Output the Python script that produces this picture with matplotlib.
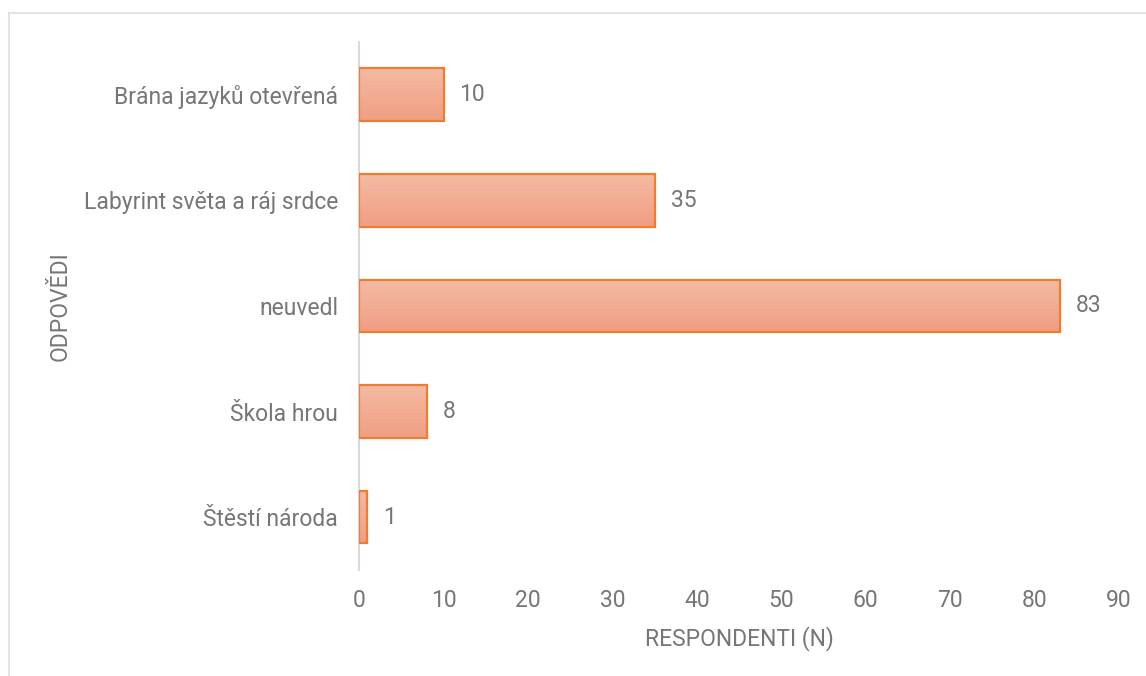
import matplotlib
matplotlib.use("Agg")
import matplotlib.pyplot as plt
import numpy as np
from matplotlib.colors import LinearSegmentedColormap
from matplotlib.lines import Line2D

plt.rcParams['font.family'] = ['Roboto', 'DejaVu Sans']

categories = ["Brána jazyků otevřená", "Labyrint světa a ráj srdce", "neuvedl",
              "Škola hrou", "Štěstí národa"]
values = [10, 35, 83, 8, 1]
xticks = [0, 10, 20, 30, 40, 50, 60, 70, 80, 90]

text_col = "#767676"
edge_col = "#ED7D31"
grad = LinearSegmentedColormap.from_list("g", ["#F5BAA3", "#F09E82"])
fs = 16.5

fig = plt.figure(figsize=(11.46, 6.76), dpi=100)
ax = fig.add_axes([0.3133, 0.157, 0.6633, 0.7809])

ypos = np.arange(len(categories))
bars = ax.barh(ypos, values, height=0.5, facecolor="none", edgecolor=edge_col,
               linewidth=1.6, zorder=3)
g = np.linspace(0, 1, 64).reshape(-1, 1)
for b in bars:
    x0, y0 = b.get_x(), b.get_y()
    w, h = b.get_width(), b.get_height()
    ax.imshow(g, cmap=grad, aspect="auto", extent=[x0, x0 + w, y0 + h, y0],
              origin="upper", zorder=2)
    ax.text(x0 + w + 1.9, y0 + h / 2, str(int(w)), va="center", ha="left",
            fontsize=fs, color=text_col)

ax.set_xlim(0, 90)
ax.set_ylim(len(categories) - 0.5, -0.5)
ax.set_xticks(xticks)
ax.set_yticks(ypos)
ax.set_yticklabels(categories)
ax.tick_params(axis="both", length=0, labelsize=fs, labelcolor=text_col)
ax.tick_params(axis="x", pad=14)
ax.tick_params(axis="y", pad=15)
for s in ["top", "right", "bottom"]:
    ax.spines[s].set_visible(False)
ax.spines["left"].set_color("#D9D9D9")
ax.spines["left"].set_linewidth(1.5)

ax.set_xlabel("RESPONDENTI (N)", fontsize=fs, color=text_col, labelpad=10)
ax.set_ylabel("ODPOVĚDI", fontsize=fs, color=text_col, labelpad=9)

fig.add_artist(Line2D([0.008, 1.0], [0.9815, 0.9815], color="#E3E3E3", lw=1.5,
                      transform=fig.transFigure))
fig.add_artist(Line2D([0.008, 0.008], [0.0, 0.9815], color="#E3E3E3", lw=1.5,
                      transform=fig.transFigure))

fig.savefig("out.png", dpi=100)
